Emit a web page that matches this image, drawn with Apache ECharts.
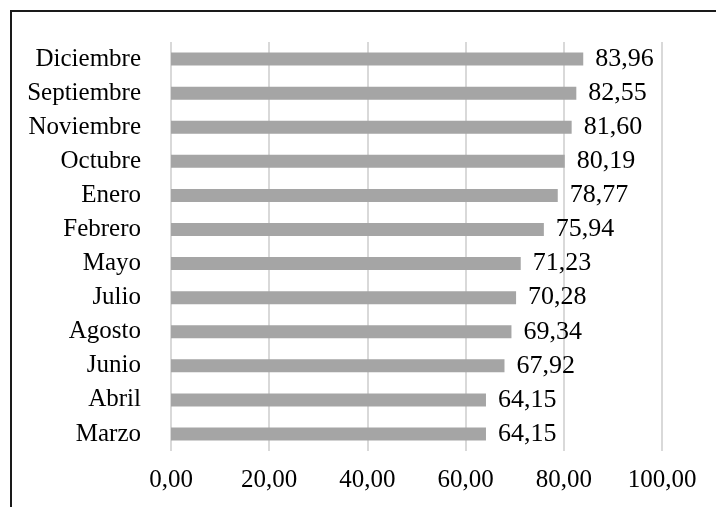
<!DOCTYPE html>
<html>
<head>
<meta charset="utf-8">
<script src="https://cdn.jsdelivr.net/npm/echarts@6/dist/echarts.min.js"></script>
<style>
  html, body { margin: 0; padding: 0; background: #fff; overflow: hidden; }
  #chart { position: absolute; left: 0; top: 0; width: 716px; height: 507px; }
  #frame {
    position: absolute; left: 10px; top: 10px; width: 800px; height: 600px;
    border: 2.5px solid #1a1a1a; box-sizing: border-box; pointer-events: none;
  }
</style>
</head>
<body>
<div id="chart"></div>
<div id="frame"></div>
<script>
const months = ['Diciembre', 'Septiembre', 'Noviembre', 'Octubre', 'Enero', 'Febrero',
  'Mayo', 'Julio', 'Agosto', 'Junio', 'Abril', 'Marzo'];
const values = [83.96, 82.55, 81.60, 80.19, 78.77, 75.94, 71.23, 70.28, 69.34, 67.92, 64.15, 64.15];

const fmt = v => v.toFixed(2).replace('.', ',');
const font = '"Liberation Serif", "Times New Roman", serif';

const chart = echarts.init(document.getElementById('chart'));
chart.setOption({
  animation: false,
  grid: { left: 171, right: 54, top: 42, bottom: 56, containLabel: false },
  xAxis: {
    type: 'value',
    min: 0,
    max: 100,
    interval: 20,
    axisLine: { show: false },
    axisTick: { show: false },
    splitLine: { lineStyle: { color: '#d9d9d9', width: 2 } },
    axisLabel: {
      color: '#000',
      fontFamily: font,
      fontSize: 25,
      margin: 17,
      formatter: v => fmt(v)
    }
  },
  yAxis: {
    type: 'category',
    data: months,
    inverse: true,
    axisLine: { show: false },
    axisTick: { show: false },
    axisLabel: {
      color: '#000',
      fontFamily: font,
      fontSize: 25,
      margin: 30
    }
  },
  series: [
    {
      type: 'bar',
      data: values,
      barWidth: 13,
      itemStyle: { color: '#a5a5a5' },
      label: {
        show: true,
        position: 'right',
        distance: 12,
        color: '#000',
        fontFamily: font,
        fontSize: 26,
        formatter: p => fmt(p.value)
      }
    }
  ]
});
</script>
</body>
</html>
